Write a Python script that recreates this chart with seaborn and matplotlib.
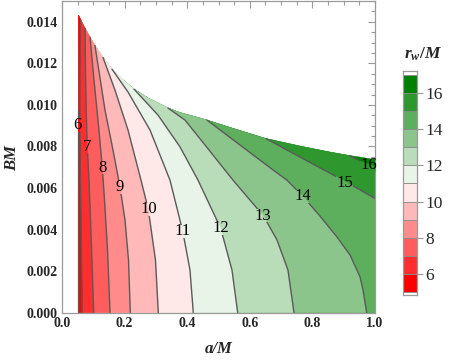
import numpy as np
import matplotlib
matplotlib.use("Agg")
import matplotlib.pyplot as plt
import seaborn as sns
from matplotlib.patches import Polygon, Rectangle

# ---------------- data ----------------
# upper boundary of the allowed region (a/M, BM)
bnd_a = [0.0527, 0.0597, 0.0735, 0.0895, 0.1054, 0.1310, 0.1597, 0.1917, 0.2300, 0.2748,
         0.3387, 0.3770, 0.4409, 0.4633, 0.5527, 0.6518, 0.7604, 0.8562, 0.9201, 0.9521, 1.0]
bnd_b = [0.01432, 0.01410, 0.01369, 0.01326, 0.01285, 0.01228, 0.01172, 0.01124, 0.01076, 0.01033,
         0.00985, 0.00963, 0.00937, 0.00927, 0.00884, 0.00838, 0.00802, 0.00773, 0.00756, 0.00749, 0.00737]
left_edge_a = 0.0527

levels = [6, 7, 8, 9, 10, 11, 12, 13, 14, 15, 16]

c6_a = [0.0649, 0.0623, 0.0591, 0.0569, 0.0575, 0.0597]
c6_b = [0.0, 0.00302, 0.00638, 0.00903, 0.01167, 0.01410]
c7_a = [0.1013, 0.0946, 0.0863, 0.0808, 0.0773, 0.0751, 0.0735]
c7_b = [0.0, 0.00302, 0.00638, 0.00797, 0.00975, 0.01167, 0.01369]
c8_a = [0.1534, 0.1454, 0.1358, 0.1288, 0.1166, 0.1038, 0.0895]
c8_b = [0.0, 0.00302, 0.00542, 0.00697, 0.00903, 0.01095, 0.01326]
c9_a = [0.2182, 0.2125, 0.2013, 0.1853, 0.1629, 0.1374, 0.1054]
c9_b = [0.0, 0.00253, 0.00446, 0.00605, 0.00783, 0.00975, 0.01285]
c10_a = [0.3077, 0.2987, 0.2757, 0.2524, 0.2109, 0.1693, 0.1310]
c10_b = [0.0, 0.00253, 0.00497, 0.00638, 0.00879, 0.01071, 0.01228]
c11_a = [0.4195, 0.4089, 0.3856, 0.3450, 0.2812, 0.2109, 0.1597]
c11_b = [0.0, 0.00205, 0.00393, 0.00638, 0.00879, 0.01062, 0.01172]
c12_a = [0.5613, 0.5431, 0.5070, 0.4345, 0.3770, 0.3067, 0.2300]
c12_b = [0.0, 0.00205, 0.00406, 0.00638, 0.00798, 0.00951, 0.01076]
c13_a = [0.7412, 0.7220, 0.6869, 0.6431, 0.6006, 0.5463, 0.4569, 0.3930, 0.3387]
c13_b = [0.0, 0.00205, 0.00350, 0.00467, 0.00542, 0.00638, 0.00807, 0.00927, 0.00985]
c14_a = [0.9735, 0.9617, 0.9521, 0.9201, 0.8776, 0.8243, 0.7690, 0.7188, 0.6751, 0.5687, 0.4633]
c14_b = [0.0, 0.00109, 0.00173, 0.00278, 0.00366, 0.00465, 0.00561, 0.00638, 0.00686, 0.00807, 0.00927]
c15_a = [1.0, 0.9361, 0.8776, 0.7604, 0.6518]
c15_b = [0.00550, 0.00605, 0.00654, 0.00749, 0.00838]
c16_a = [1.0, 0.9521, 0.9201]
c16_b = [0.00706, 0.00730, 0.00756]

# contour label positions
lab_text = ["6", "7", "8", "9", "10", "11", "12", "13", "14", "15", "16"]
lab_a = [0.050, 0.081, 0.129, 0.185, 0.276, 0.386, 0.507, 0.643, 0.769, 0.904, 0.979]
lab_b = [0.00903, 0.00798, 0.00697, 0.00603, 0.00497, 0.00393, 0.00406, 0.00467, 0.00561, 0.00625, 0.00710]

# colour bar
cbar_levels = [5, 6, 7, 8, 9, 10, 11, 12, 13, 14, 15, 16, 17]
band_colors = ["#ff0000", "#ff2e2e", "#ff5d5d", "#ff8b8b", "#ffb9b9", "#ffe8e8",
               "#e8f4e8", "#b9dcb9", "#8bc58b", "#5dae5d", "#2e972e", "#008000"]

contours = {6: (c6_a, c6_b), 7: (c7_a, c7_b), 8: (c8_a, c8_b), 9: (c9_a, c9_b),
            10: (c10_a, c10_b), 11: (c11_a, c11_b), 12: (c12_a, c12_b), 13: (c13_a, c13_b),
            14: (c14_a, c14_b), 15: (c15_a, c15_b), 16: (c16_a, c16_b)}

# ---------------- style ----------------
sns.set_style("white")
plt.rcParams["font.family"] = ["Liberation Serif", "DejaVu Serif"]
plt.rcParams["mathtext.fontset"] = "custom"
plt.rcParams["mathtext.it"] = "Liberation Serif:italic:bold"
plt.rcParams["mathtext.rm"] = "Liberation Serif:bold"
plt.rcParams["mathtext.bf"] = "Liberation Serif:bold"

FRAME = "#9a9a9a"
LINE = "#5a5a5a"

fig = plt.figure(figsize=(4.49, 3.61), dpi=100)
W, H = 449.0, 361.0
ax = fig.add_axes([62 / W, 1 - 312.7 / H, 313 / W, 311.7 / H])


def left_region(k):
    ca, cb = contours[k]
    pts = list(zip(ca, cb))
    a_end = ca[-1]
    back = [(x, y) for x, y in zip(bnd_a, bnd_b) if x < a_end - 1e-9]
    pts += back[::-1]
    pts.append((left_edge_a, 0.0))
    if cb[0] > 0:
        pts.append((1.0, 0.0))
    return pts


domain = list(zip(bnd_a, bnd_b)) + [(1.0, 0.0), (left_edge_a, 0.0)]
regions = [(domain, band_colors[-1])]
for k in levels[::-1]:
    regions.append((left_region(k), band_colors[k - 6]))


def draw_fills(clip=None):
    for pts, col in regions:
        p = Polygon(pts, closed=True, facecolor=col, edgecolor=col, lw=0.3, zorder=1 if clip is None else 3)
        ax.add_patch(p)
        if clip is not None:
            p.set_clip_path(clip)


draw_fills()

for k in levels:
    ca, cb = contours[k]
    sns.lineplot(x=ca, y=cb, sort=False, estimator=None, color=LINE, lw=1.0, ax=ax, zorder=2)
# left edge line
sns.lineplot(x=[left_edge_a, left_edge_a], y=[0.0, 0.0097], sort=False, estimator=None,
             color=LINE, lw=0.9, ax=ax, zorder=2)

# labels with line breaks
px_a = 1 / 313.0
px_b = 0.015 / 311.7
for t, la, lb in zip(lab_text, lab_a, lab_b):
    wpx = 9 if len(t) == 1 else 17
    rect = Rectangle((la - wpx / 2 * px_a, lb - 6.5 * px_b), wpx * px_a, 13 * px_b,
                     transform=ax.transData)
    draw_fills(clip=rect)
    ax.text(la, lb, t, ha="center", va="center", fontsize=12, color="black", zorder=5)

ax.set_xlim(0, 1)
ax.set_ylim(0, 0.015)
ax.set_xticks(np.arange(0, 1.01, 0.2))
ax.set_xticklabels(["0.0", "0.2", "0.4", "0.6", "0.8", "1.0"])
ax.set_xticks(np.arange(0, 1.001, 0.05), minor=True)
ax.set_yticks(np.arange(0, 0.0141, 0.002))
ax.set_yticklabels(["%.3f" % v for v in np.arange(0, 0.0141, 0.002)])
ax.set_yticks(np.arange(0, 0.0151, 0.0005), minor=True)
ax.tick_params(which="both", direction="in", top=True, right=True, color=FRAME, width=0.8)
ax.tick_params(which="major", length=5, labelsize=10, pad=3)
ax.tick_params(which="minor", length=2.8)
for lab in ax.get_xticklabels() + ax.get_yticklabels():
    lab.set_fontweight("bold")
for s in ax.spines.values():
    s.set_color(FRAME)
    s.set_linewidth(0.9)
ax.set_xlabel("")
ax.set_ylabel("")

fig.text(219 / W, 1 - 349 / H, "a/M", ha="center", va="center", fontsize=12,
         fontstyle="italic", fontweight="bold")
fig.text(12 / W, 1 - 158 / H, "BM", ha="center", va="center", fontsize=12,
         fontstyle="italic", fontweight="bold", rotation=90)

# colour bar
cax = fig.add_axes([403 / W, 1 - 295 / H, 14 / W, 224.3 / H])
cax.bar(x=[0] * 12, height=[1] * 12, bottom=cbar_levels[:-1], width=1.0,
        color=band_colors, edgecolor="#8a8a8a", linewidth=0.6)
cax.set_xlim(-0.5, 0.5)
cax.set_ylim(4.84, 17.23)
cax.set_xticks([])
cax.yaxis.tick_right()
cax.set_yticks([6, 8, 10, 12, 14, 16])
cax.tick_params(axis="y", direction="out", length=4, color=FRAME, labelsize=12.5, pad=2)
for s in cax.spines.values():
    s.set_color(FRAME)
    s.set_linewidth(0.9)
fig.text(423.5 / W, 1 - 54 / H, r"$r_w/M$", ha="center", va="center", fontsize=12.5)

fig.savefig("out.png", dpi=100)
